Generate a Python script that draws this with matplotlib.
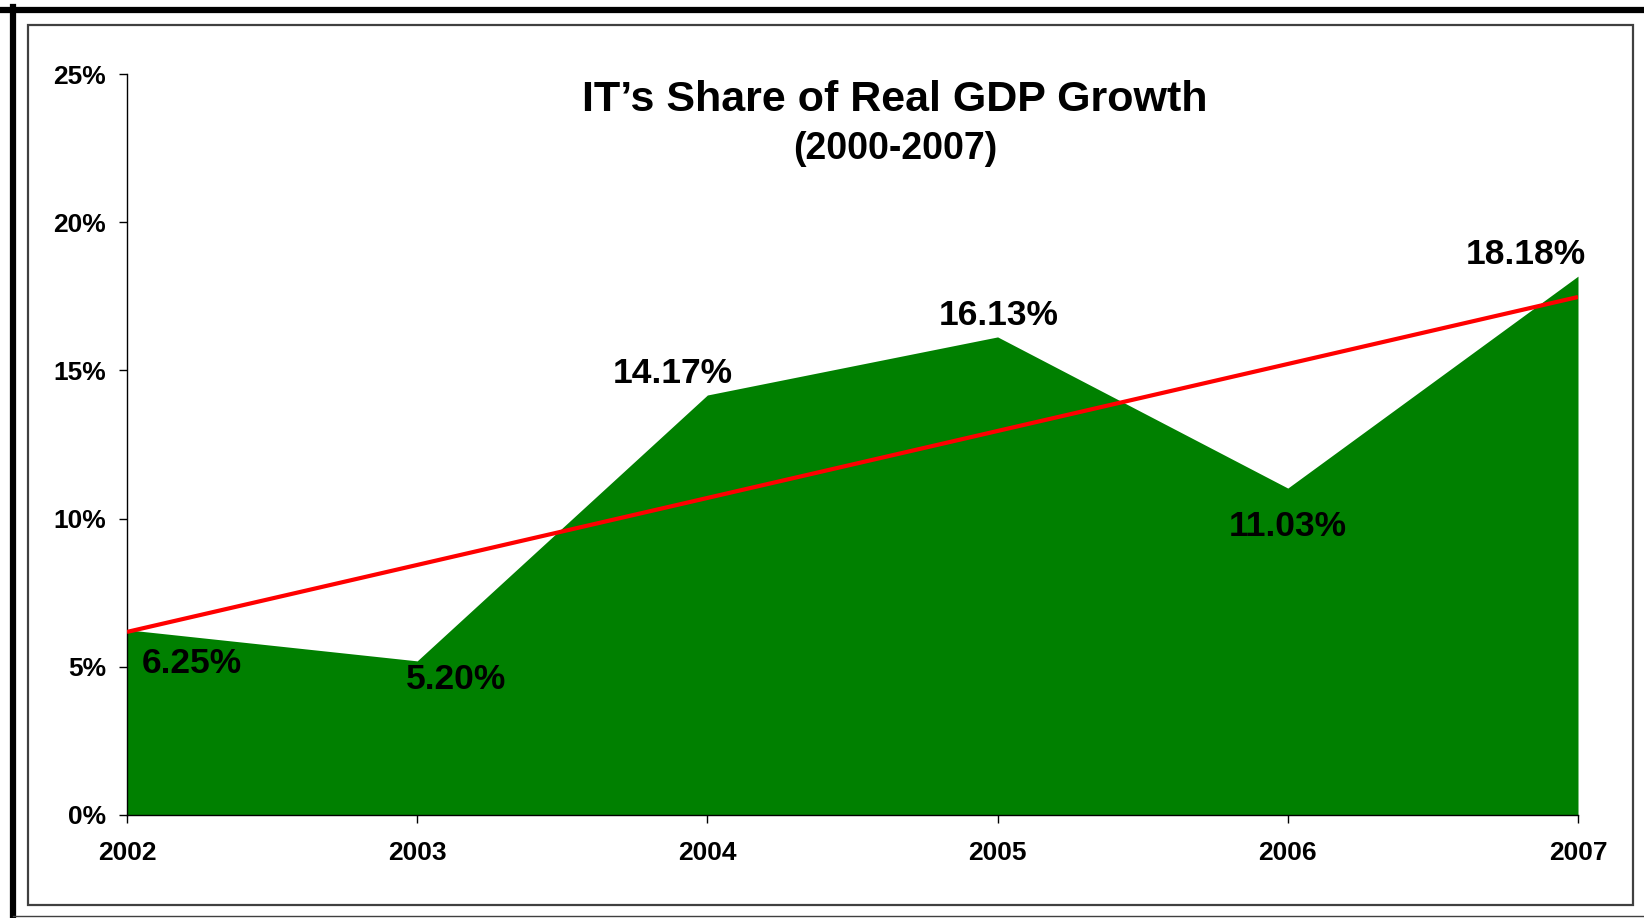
import numpy as np
import matplotlib.pyplot as plt
from matplotlib.lines import Line2D
from matplotlib.patches import Rectangle

# Dane z wykresu
lata = ['2002', '2003', '2004', '2005', '2006', '2007']
udzial_it = [6.25, 5.20, 14.17, 16.13, 11.03, 18.18]
etykiety_y = ['0%', '5%', '10%', '15%', '20%', '25%']

# przesunięcia etykiet danych (w pikselach)
przesuniecia = [(65, -34), (39, -19), (-35, 22), (1, 21), (0, -38), (-52, 22)]

plt.rcParams['font.family'] = ['Liberation Sans', 'DejaVu Sans']
plt.rcParams['font.weight'] = 'bold'

W, H = 1644, 918
fig = plt.figure(figsize=(W / 100, H / 100), dpi=100)
ax = fig.add_axes([127 / W, 1 - 815 / H, (1578 - 127) / W, (815 - 74) / H])

x = np.arange(len(lata))
ax.fill_between(x, 0, udzial_it, color='#008000', linewidth=0, zorder=2)

# linia trendu (regresja liniowa jak w Excelu)
a, b = np.polyfit(x, udzial_it, 1)
ax.plot(x, a * x + b, color='#ff0000', linewidth=3, zorder=3, solid_capstyle='butt')

for xi, yi, (dx, dy) in zip(x, udzial_it, przesuniecia):
    ax.annotate(f'{yi:.2f}%', (xi, yi), xytext=(dx, dy), textcoords='offset pixels',
                ha='center', va='center', fontsize=25.5, fontweight='bold', zorder=4)

ax.set_xlim(0, len(lata) - 1)
ax.set_ylim(0, 25)
ax.set_xticks(x)
ax.set_xticklabels(lata)
ax.set_yticks([0, 5, 10, 15, 20, 25])
ax.set_yticklabels(etykiety_y)
ax.tick_params(axis='both', direction='out', length=6, width=1, labelsize=19, color='black')
ax.tick_params(axis='y', pad=9)
ax.tick_params(axis='x', pad=13)
for lab in ax.get_xticklabels() + ax.get_yticklabels():
    lab.set_fontweight('bold')
ax.spines['top'].set_visible(False)
ax.spines['right'].set_visible(False)
ax.spines['left'].set_linewidth(1)
ax.spines['bottom'].set_linewidth(1)
ax.set_facecolor('none')

# tytuł
fig.text(895 / W, 1 - 100 / H, 'IT\u2019s Share of Real GDP Growth', ha='center', va='center',
         fontsize=31, fontweight='bold')
fig.text(895 / W, 1 - 149 / H, '(2000-2007)', ha='center', va='center',
         fontsize=27, fontweight='bold')

# ramki
fig.add_artist(Rectangle((28 / W, 1 - 905 / H), (1633 - 28) / W, (905 - 25) / H,
                         transform=fig.transFigure, fill=False, edgecolor='#404040', linewidth=1.6))
fig.add_artist(Line2D([0, 1], [1 - 10 / H, 1 - 10 / H], transform=fig.transFigure,
                      color='black', linewidth=4.5))
fig.add_artist(Line2D([13 / W, 13 / W], [0, 1 - 7 / H], transform=fig.transFigure,
                      color='black', linewidth=4.5))
fig.add_artist(Line2D([13 / W, 1], [1 - 916 / H, 1 - 916 / H], transform=fig.transFigure,
                      color='#404040', linewidth=1))

fig.savefig('out.png', dpi=100)
